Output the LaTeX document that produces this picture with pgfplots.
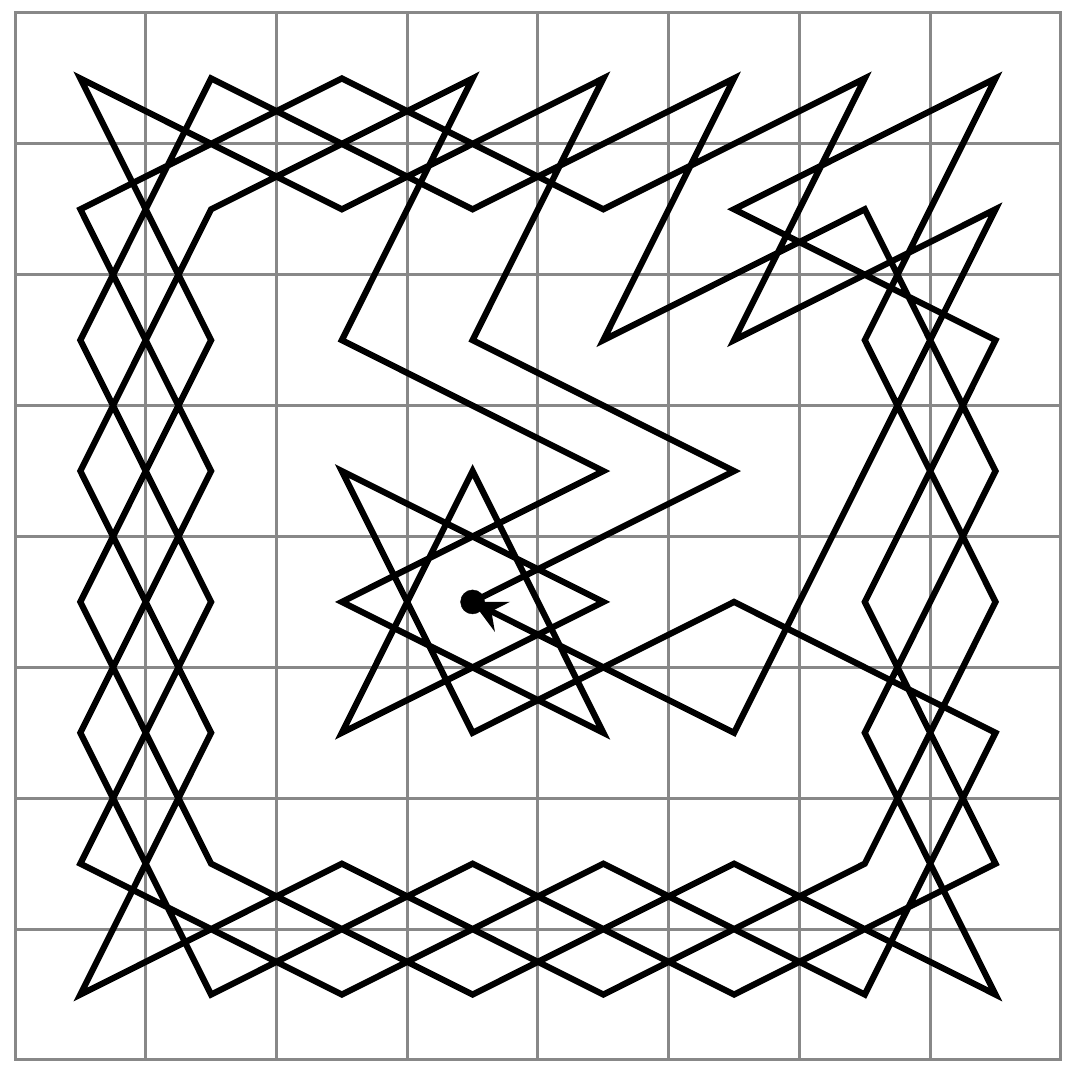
\documentclass[border=0pt]{standalone}
\usepackage{pgfplots}
\pgfplotsset{compat=1.18}
\usetikzlibrary{arrows.meta}
\definecolor{gridgray}{RGB}{136,136,136}
\begin{document}
\begin{tikzpicture}
\begin{axis}[name=ax,
  scale only axis, width=1046pt, height=1047pt,
  xmin=-0.5, xmax=7.5, ymin=-0.5, ymax=7.5,
  xtick={0.5,1.5,...,6.5}, ytick={0.5,1.5,...,6.5},
  xticklabels={}, yticklabels={},
  major tick length=0pt,
  grid=major,
  major grid style={draw=gridgray, line width=3pt},
  axis line style={draw=gridgray, line width=3pt},
  clip=false,
]
\addplot[black, line width=6.2pt, line join=miter, -{Stealth[length=33pt,width=33pt,inset=12pt]}] coordinates {
(3,3) (5,4) (3,5) (4,7) (2,6) (0,7) (1,5) (0,3) (1,1) (3,0) (5,1) (7,0) (6,2) (7,4) (6,6) (4,5)
(5,7) (3,6) (1,7) (0,5) (1,3) (0,1) (2,0) (4,1) (6,0) (7,2) (5,3) (3,2) (2,4) (4,3) (2,2) (3,4)
(4,2) (2,3) (4,4) (2,5) (3,7) (1,6) (0,4) (1,2) (0,0) (2,1) (4,0) (6,1) (7,3) (6,5) (7,7) (5,6)
(7,5) (6,3) (7,1) (5,0) (3,1) (1,0) (0,2) (1,4) (0,6) (2,7) (4,6) (6,7) (5,5) (7,6) (6,4) (5,2)
(3,3)
};
\addplot[only marks, mark=*, mark size=12pt, black] coordinates {(3,3)};
\end{axis}
\pgfresetboundingbox
\useasboundingbox ([shift={(-15pt,-15pt)}]ax.south west) rectangle ([shift={(14pt,13pt)}]ax.north east);
\end{tikzpicture}
\end{document}
